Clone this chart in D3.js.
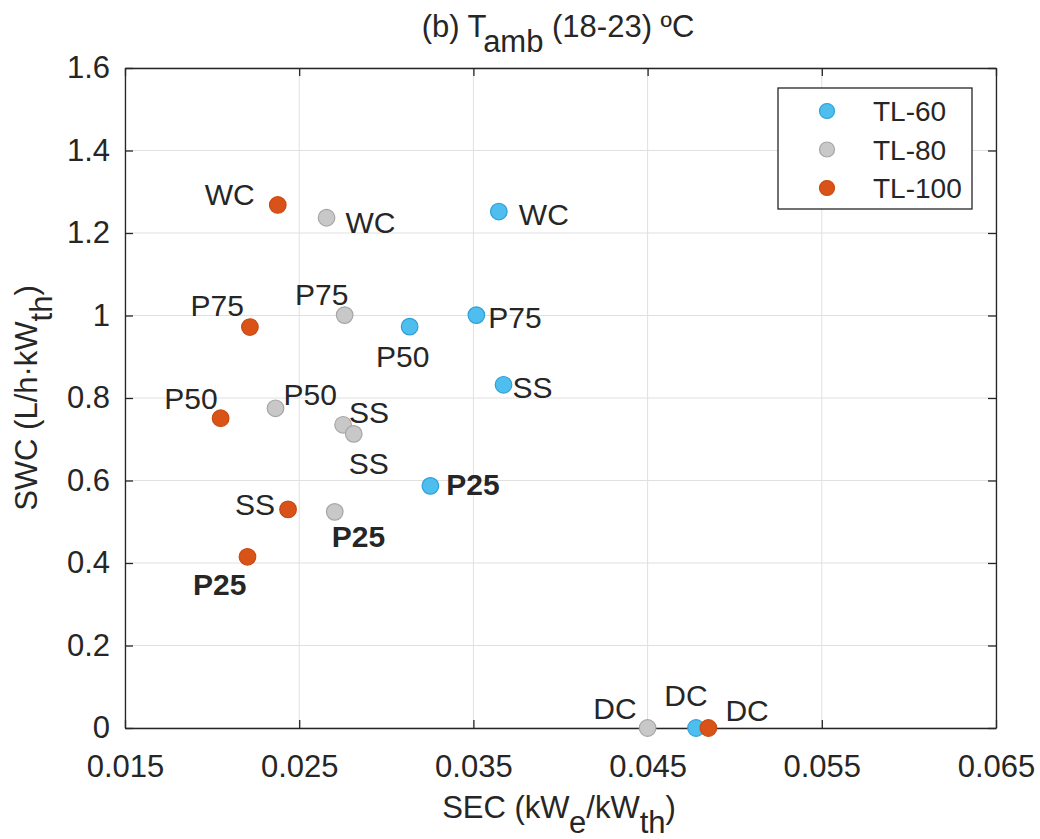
<!DOCTYPE html>
<html>
<head>
<meta charset="utf-8">
<script src="https://cdn.jsdelivr.net/npm/d3@7"></script>
<style>
  body { margin: 0; background: #fff; }
  text { font-family: "Liberation Sans", Arial, Helvetica, sans-serif; fill: #262626; }
</style>
</head>
<body>
<div id="chart"></div>
<script>
// Data ///////////////////////////////////////////////
const seriesNames = ["TL-60", "TL-80", "TL-100"];

const tl60Sec = [0.03646, 0.03517, 0.03134, 0.03673, 0.03253, 0.04778];
const tl60Swc = [1.252, 1.001, 0.973, 0.832, 0.587, 0];
const tl60Labels = ["WC", "P75", "P50", "SS", "P25", "DC"];

const tl80Sec = [0.02657, 0.02761, 0.02364, 0.02752, 0.02813, 0.02704, 0.0450];
const tl80Swc = [1.237, 1.001, 0.775, 0.735, 0.713, 0.524, 0];
const tl80Labels = ["WC", "P75", "P50", "SS", "SS", "P25", "DC"];

const tl100Sec = [0.02377, 0.02217, 0.02049, 0.02436, 0.02203, 0.04849];
const tl100Swc = [1.268, 0.972, 0.751, 0.530, 0.415, 0];
const tl100Labels = ["WC", "P75", "P50", "SS", "P25", "DC"];

const xTicks = [0.015, 0.025, 0.035, 0.045, 0.055, 0.065];
const yTicks = [0, 0.2, 0.4, 0.6, 0.8, 1, 1.2, 1.4, 1.6];

// Layout ////////////////////////////////////////////
const width = 1040;
const height = 839;
const margin = { left: 125, right: 44, top: 68, bottom: 111 };
const tickFont = 31;
const labelFont = 30;
const legendFont = 28;
const subShift = 15;

const colors = {
  "TL-60": { fill: "#4DBEEE", stroke: "#2f9fd8" },
  "TL-80": { fill: "#C8C8C8", stroke: "#a6a6a6" },
  "TL-100": { fill: "#D95319", stroke: "#c9490f" }
};

// label placement: [dx, dy, anchor] relative to marker centre
const labelOffsets = {
  "TL-60": [[20, 13, "start"], [12, 13, "start"], [-7, 40, "middle"], [9, 13, "start"], [16, 9, "start"], [-10, -22, "middle"]],
  "TL-80": [[19, 15, "start"], [-23, -10, "middle"], [8, -3, "start"], [6, -2, "start"], [-5, 40, "start"], [-3, 35, "start"], [-11, -9, "end"]],
  "TL-100": [[-23, 0, "end"], [-6, -11, "end"], [-3, -9, "end"], [-13, 6, "end"], [-1, 38, "end"], [17, -7, "start"]]
};

const series = [
  { name: "TL-60", sec: tl60Sec, swc: tl60Swc, labels: tl60Labels },
  { name: "TL-80", sec: tl80Sec, swc: tl80Swc, labels: tl80Labels },
  { name: "TL-100", sec: tl100Sec, swc: tl100Swc, labels: tl100Labels }
];

const x = d3.scaleLinear().domain([0.015, 0.065]).range([margin.left, width - margin.right]);
const y = d3.scaleLinear().domain([0, 1.6]).range([height - margin.bottom, margin.top]);

const svg = d3.select("#chart").append("svg")
  .attr("width", width)
  .attr("height", height);

// Grid
const grid = svg.append("g");
grid.selectAll(".gx").data(xTicks).enter().append("line")
  .attr("x1", d => x(d)).attr("x2", d => x(d))
  .attr("y1", y(0)).attr("y2", y(1.6))
  .attr("stroke", "#e0e0e0").attr("stroke-width", 1);
grid.selectAll(".gy").data(yTicks).enter().append("line")
  .attr("x1", x(0.015)).attr("x2", x(0.065))
  .attr("y1", d => y(d)).attr("y2", d => y(d))
  .attr("stroke", "#e0e0e0").attr("stroke-width", 1);

// Axes (ticks inward on all sides)
const tickLen = 8;
const axisStyle = g => {
  g.select(".domain").attr("stroke", "#262626").attr("stroke-width", 1.3);
  g.selectAll(".tick line").attr("stroke", "#262626").attr("stroke-width", 1.3);
  g.selectAll(".tick text")
    .style("font-size", tickFont + "px")
    .attr("fill", "#262626");
};

svg.append("g")
  .attr("transform", `translate(0,${y(0)})`)
  .call(d3.axisBottom(x).tickValues(xTicks).tickFormat(d3.format(".3f"))
    .tickSizeInner(-tickLen).tickSizeOuter(0))
  .call(axisStyle)
  .call(g => g.selectAll(".tick text").attr("y", 49).attr("dy", 0));

svg.append("g")
  .attr("transform", `translate(0,${y(1.6)})`)
  .call(d3.axisTop(x).tickValues(xTicks).tickFormat("")
    .tickSizeInner(-tickLen).tickSizeOuter(0))
  .call(axisStyle);

svg.append("g")
  .attr("transform", `translate(${x(0.015)},0)`)
  .call(d3.axisLeft(y).tickValues(yTicks).tickFormat(d3.format("~g"))
    .tickSizeInner(-tickLen).tickSizeOuter(0))
  .call(axisStyle)
  .call(g => g.selectAll(".tick text").attr("x", -15));

svg.append("g")
  .attr("transform", `translate(${x(0.065)},0)`)
  .call(d3.axisRight(y).tickValues(yTicks).tickFormat("")
    .tickSizeInner(-tickLen).tickSizeOuter(0))
  .call(axisStyle);

// Points
series.forEach(s => {
  const pts = s.sec.map((v, i) => ({ sec: v, swc: s.swc[i], label: s.labels[i], off: labelOffsets[s.name][i] }));
  const g = svg.append("g");
  g.selectAll("circle").data(pts).enter().append("circle")
    .attr("cx", d => x(d.sec))
    .attr("cy", d => y(d.swc))
    .attr("r", 8.3)
    .attr("fill", colors[s.name].fill)
    .attr("stroke", colors[s.name].stroke)
    .attr("stroke-width", 1.2);
  g.selectAll("text").data(pts).enter().append("text")
    .attr("x", d => x(d.sec) + d.off[0])
    .attr("y", d => y(d.swc) + d.off[1])
    .attr("text-anchor", d => d.off[2])
    .style("font-size", labelFont + "px")
    .style("font-weight", d => d.label === "P25" ? "bold" : "normal")
    .text(d => d.label);
});

// Legend
const legend = svg.append("g");
legend.append("rect")
  .attr("x", 778).attr("y", 88).attr("width", 194).attr("height", 121)
  .attr("fill", "#fff").attr("stroke", "#262626").attr("stroke-width", 1.3);
seriesNames.forEach((name, i) => {
  const cy = 111 + i * 38.5;
  legend.append("circle")
    .attr("cx", 827).attr("cy", cy).attr("r", 7.5)
    .attr("fill", colors[name].fill)
    .attr("stroke", colors[name].stroke)
    .attr("stroke-width", 1.2);
  legend.append("text")
    .attr("x", 873).attr("y", cy + 10)
    .style("font-size", legendFont + "px")
    .text(name);
});

// Title and axis labels (subscripts same size, shifted down)
const addSub = (el, parts) => {
  parts.forEach(([txt, sub], i) => {
    const prevSub = i > 0 && parts[i - 1][1];
    el.append("tspan")
      .attr("dy", sub && !prevSub ? subShift : (!sub && prevSub ? -subShift : 0))
      .text(txt);
  });
};

const title = svg.append("text")
  .attr("x", 558).attr("y", 37)
  .attr("text-anchor", "middle")
  .style("font-size", tickFont + "px");
addSub(title, [["(b) T", false], ["amb", true], [" (18-23) ºC", false]]);

const xLabel = svg.append("text")
  .attr("x", 559).attr("y", 818)
  .attr("text-anchor", "middle")
  .style("font-size", tickFont + "px");
addSub(xLabel, [["SEC (kW", false], ["e", true], ["/kW", false], ["th", true], [")", false]]);

const yLabel = svg.append("text")
  .attr("transform", `translate(37,${(y(0) + y(1.6)) / 2}) rotate(-90)`)
  .attr("text-anchor", "middle")
  .style("font-size", tickFont + "px");
addSub(yLabel, [["SWC (L/h·kW", false], ["th", true], [")", false]]);
</script>
</body>
</html>
